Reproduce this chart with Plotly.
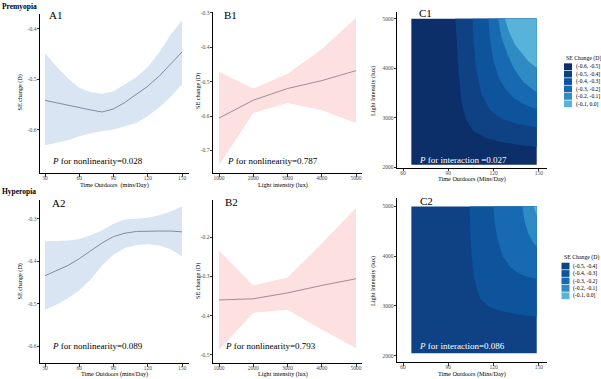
import plotly.graph_objects as go

W, H = 601, 379
SERIF = "Liberation Serif"

# ---------------- data ----------------
a_time = [30, 40, 50, 60, 70, 80, 90, 100, 110, 120, 130, 140, 150]
a1_fit = [-0.542, -0.547, -0.552, -0.556, -0.561, -0.565, -0.559, -0.546, -0.530, -0.514, -0.494, -0.471, -0.446]
a1_upper = [-0.448, -0.475, -0.498, -0.517, -0.526, -0.529, -0.524, -0.510, -0.496, -0.476, -0.447, -0.412, -0.383]
a1_lower = [-0.631, -0.626, -0.621, -0.613, -0.607, -0.603, -0.600, -0.594, -0.587, -0.573, -0.556, -0.535, -0.510]
a2_fit = [-0.434, -0.422, -0.410, -0.394, -0.375, -0.357, -0.342, -0.334, -0.330, -0.329, -0.329, -0.329, -0.331]
a2_upper = [-0.353, -0.352, -0.351, -0.348, -0.339, -0.327, -0.312, -0.302, -0.300, -0.298, -0.292, -0.283, -0.271]
a2_lower = [-0.514, -0.502, -0.487, -0.468, -0.443, -0.410, -0.384, -0.369, -0.362, -0.360, -0.363, -0.372, -0.388]

b_light = [1000, 2000, 3000, 4000, 5000]
b1_fit = [-0.606, -0.554, -0.520, -0.497, -0.468]
b1_upper = [-0.471, -0.520, -0.477, -0.406, -0.314]
b1_lower = [-0.743, -0.591, -0.562, -0.583, -0.620]
b2_fit = [-0.360, -0.357, -0.342, -0.323, -0.306]
b2_upper = [-0.234, -0.323, -0.303, -0.216, -0.125]
b2_lower = [-0.487, -0.393, -0.385, -0.435, -0.483]

# contour surface extent (time outdoors x light intensity)
c_time_extent = [65.5, 148.5]
c_light_extent = [2050, 5000]
c_band_labels = ["(-0.6, -0.5]", "(-0.5, -0.4]", "(-0.4, -0.3]", "(-0.3, -0.2]", "(-0.2, -0.1]", "(-0.1, 0.0]"]
c_band_colors = ["#0C2E69", "#0E4284", "#0D549D", "#1769B2", "#2F8BC3", "#57B4D8"]

# C1 isolines (levels -0.5 ... -0.1)
c1_iso_m05_x = [94.6, 95.4, 96.8, 98.8, 101.8, 106.5, 114.0, 124.0, 136.0, 148.5]
c1_iso_m05_y = [5000, 4500, 3900, 3300, 2960, 2730, 2600, 2515, 2455, 2410]
c1_iso_m04_x = [106.0, 106.8, 108.3, 112.0, 117.5, 125.5, 136.5, 148.5]
c1_iso_m04_y = [5000, 4500, 4000, 3470, 3160, 2975, 2870, 2810]
c1_iso_m03_x = [116.5, 117.5, 119.8, 123.5, 127.8, 133.5, 140.5, 148.5]
c1_iso_m03_y = [5000, 4600, 4150, 3800, 3580, 3390, 3265, 3175]
c1_iso_m02_x = [123.0, 125.0, 129.0, 133.5, 139.5, 148.5]
c1_iso_m02_y = [5000, 4650, 4290, 3990, 3730, 3510]
c1_iso_m01_x = [127.5, 130.0, 134.2, 139.0, 143.0, 148.5]
c1_iso_m01_y = [5000, 4750, 4470, 4280, 4140, 4010]

# C2 isolines (levels -0.4 ... -0.1)
c2_iso_m04_x = [104.0, 104.5, 105.5, 107.0, 111.0, 117.0, 125.0, 136.0, 148.5]
c2_iso_m04_y = [5000, 4500, 4000, 3550, 3150, 2980, 2900, 2830, 2785]
c2_iso_m03_x = [119.8, 120.5, 122.5, 126.0, 131.0, 137.0, 143.0, 148.5]
c2_iso_m03_y = [5000, 4700, 4350, 4000, 3780, 3650, 3580, 3540]
c2_iso_m02_x = [139.0, 140.5, 143.0, 146.0, 148.5]
c2_iso_m02_y = [5000, 4700, 4450, 4280, 4190]
c2_iso_m01_x = [146.5, 147.5, 148.5]
c2_iso_m01_y = [5000, 4900, 4820]

a_xticks = [30, 60, 90, 120, 150]
b_xticks = [1000, 2000, 3000, 4000, 5000]
c_xticks = [60, 90, 120, 150]
c_yticks = [2000, 3000, 4000, 5000]
a1_yticks = [-0.6, -0.5, -0.4]
a1_yticklabels = ["-0.6", "-0.5", "-0.4"]
a2_yticks = [-0.6, -0.5, -0.4, -0.3]
a2_yticklabels = ["-0.6", "-0.5", "-0.4", "-0.3"]
b1_yticks = [-0.7, -0.6, -0.5, -0.4, -0.3]
b1_yticklabels = ["-0.7", "-0.6", "-0.5", "-0.4", "-0.3"]
b2_yticks = [-0.5, -0.4, -0.3, -0.2]
b2_yticklabels = ["-0.5", "-0.4", "-0.3", "-0.2"]

# ---------------- helpers ----------------
def px(x):
    return x / W


def py(y):
    return 1 - y / H


fig = go.Figure()

A_FILL, A_LINE = "#DAE5F3", "#7F8CA3"
B_FILL, B_LINE = "#FDE0E0", "#A08C94"


def ribbon(xs, fit, up, lo, xa, ya, fillc, linec):
    fig.add_trace(go.Scatter(x=list(xs) + list(xs)[::-1], y=list(up) + list(lo)[::-1],
                             fill="toself", fillcolor=fillc, line=dict(width=0),
                             mode="lines", xaxis=xa, yaxis=ya, hoverinfo="skip"))
    fig.add_trace(go.Scatter(x=xs, y=fit, mode="lines", line=dict(color=linec, width=1),
                             xaxis=xa, yaxis=ya, hoverinfo="skip"))


ribbon(a_time, a1_fit, a1_upper, a1_lower, "x", "y", A_FILL, A_LINE)
ribbon(b_light, b1_fit, b1_upper, b1_lower, "x2", "y2", B_FILL, B_LINE)
ribbon(a_time, a2_fit, a2_upper, a2_lower, "x4", "y4", A_FILL, A_LINE)
ribbon(b_light, b2_fit, b2_upper, b2_lower, "x5", "y5", B_FILL, B_LINE)


def contour_panel(isolines, base_idx, xa, ya):
    x0, x1 = c_time_extent
    y0, y1 = c_light_extent
    fig.add_trace(go.Scatter(x=[x0, x1, x1, x0, x0], y=[y0, y0, y1, y1, y0], fill="toself",
                             fillcolor=c_band_colors[base_idx], line=dict(width=0),
                             mode="lines", xaxis=xa, yaxis=ya, hoverinfo="skip"))
    for k, (ix, iy) in enumerate(isolines):
        fig.add_trace(go.Scatter(x=list(ix) + [x1], y=list(iy) + [y1], fill="toself",
                                 fillcolor=c_band_colors[base_idx + 1 + k], line=dict(width=0),
                                 mode="lines", xaxis=xa, yaxis=ya, hoverinfo="skip"))


contour_panel([(c1_iso_m05_x, c1_iso_m05_y), (c1_iso_m04_x, c1_iso_m04_y),
               (c1_iso_m03_x, c1_iso_m03_y), (c1_iso_m02_x, c1_iso_m02_y),
               (c1_iso_m01_x, c1_iso_m01_y)], 0, "x3", "y3")
contour_panel([(c2_iso_m04_x, c2_iso_m04_y), (c2_iso_m03_x, c2_iso_m03_y),
               (c2_iso_m02_x, c2_iso_m02_y), (c2_iso_m01_x, c2_iso_m01_y)], 1, "x6", "y6")

# ---------------- axes ----------------
TICKFONT = dict(family=SERIF, size=5.5, color="#4D4D4D")


def axis(dom_px, rng, tickvals, ticktext=None, anchor=None, vertical=False):
    d = dict(showline=True, linecolor="black", linewidth=1, ticks="outside", ticklen=2.5,
             tickwidth=0.8, tickcolor="#333333", showgrid=False, zeroline=False,
             tickfont=TICKFONT, range=rng, tickvals=tickvals, anchor=anchor, fixedrange=True)
    if ticktext is not None:
        d["ticktext"] = ticktext
    if vertical:
        d["domain"] = [py(dom_px[1]), py(dom_px[0])]
        d["ticklabelstandoff"] = -1
    else:
        d["domain"] = [px(dom_px[0]), px(dom_px[1])]
        d["ticklabelstandoff"] = -3
    return d


lay = {}
# A1
lay["xaxis"] = axis([40, 189], [25.6, 156.1], a_xticks, anchor="y")
lay["yaxis"] = axis([12, 173], [-0.6863, -0.3706], a1_yticks, a1_yticklabels, anchor="x", vertical=True)
# B1
lay["xaxis2"] = axis([213, 362], [824.8, 5175], b_xticks, anchor="y2")
lay["yaxis2"] = axis([10, 173], [-0.7662, -0.2971], b1_yticks, b1_yticklabels, anchor="x2", vertical=True)
# C1
lay["xaxis3"] = axis([397, 547], [56.0, 155.3], c_xticks, anchor="y3")
lay["yaxis3"] = axis([10, 167.5], [1990, 5140], c_yticks, anchor="x3", vertical=True)
# A2
lay["xaxis4"] = axis([40, 189], [25.6, 156.1], a_xticks, anchor="y4")
lay["yaxis4"] = axis([200, 365], [-0.6395, -0.2558], a2_yticks, a2_yticklabels, anchor="x4", vertical=True)
# B2
lay["xaxis5"] = axis([213, 362], [824.8, 5175], b_xticks, anchor="y5")
lay["yaxis5"] = axis([200, 365], [-0.521, -0.105], b2_yticks, b2_yticklabels, anchor="x5", vertical=True)
# C2
lay["xaxis6"] = axis([397, 547], [56.0, 155.3], c_xticks, anchor="y6")
lay["yaxis6"] = axis([198, 364], [1870, 5173], c_yticks, anchor="x6", vertical=True)

fig.update_layout(**lay)

# ---------------- annotations ----------------
ann = []


def text(x, y, s, size, color="black", xanchor="left", angle=0, yanchor="middle"):
    ann.append(dict(x=px(x), y=py(y), xref="paper", yref="paper", text=s, showarrow=False,
                    xanchor=xanchor, yanchor=yanchor, textangle=angle,
                    font=dict(family=SERIF, size=size, color=color)))


text(0, 5, "<b>Premyopia</b>", 7.5)
text(0, 192, "<b>Hyperopia</b>", 7.5)

text(46.5, 13, "A1", 11)
text(222, 13, "B1", 11)
text(417, 11, "C1", 11)
text(50, 203, "A2", 11)
text(223, 202, "B2", 11)
text(418, 201, "C2", 11)

text(50, 161, "<i>P</i> for nonlinearity=0.028", 9)
text(225, 161, "<i>P</i> for nonlinearity=0.787", 9)
text(417, 159.5, "<i>P</i> for interaction =0.027", 9, color="white")
text(50, 348, "<i>P</i> for nonlinearity=0.089", 9)
text(223, 348, "<i>P</i> for nonlinearity=0.793", 9)
text(417, 347.5, "<i>P</i> for interaction=0.086", 9, color="white")

AX_T = 6.2
text(20.5, 92, "SE change (D)", AX_T, xanchor="center", angle=-90)
text(198, 90, "SE change (D)", AX_T, xanchor="center", angle=-90)
text(373, 90, "Light Intensity (lux)", AX_T, xanchor="center", angle=-90)
text(20.5, 283, "SE change (D)", AX_T, xanchor="center", angle=-90)
text(198, 282, "SE change (D)", AX_T, xanchor="center", angle=-90)
text(373, 282, "Light Intensity (lux)", AX_T, xanchor="center", angle=-90)

text(114, 184.5, "Time Outdoors  (mins/Day)", AX_T, xanchor="center")
text(283, 185, "Light intensity (lux)", AX_T, xanchor="center")
text(472, 178.5, "Time Outdoors (Mins/Day)", AX_T, xanchor="center")
text(114, 375.5, "Time Outdoors (mins/Day)", AX_T, xanchor="center")
text(283, 375.5, "Light intensity (lux)", AX_T, xanchor="center")
text(472, 375.5, "Time Outdoors (Mins/Day)", AX_T, xanchor="center")

# legends (drawn manually, tiny ggplot-style keys)
shapes = []


def legend(x0, ytitle, band_idx):
    text(x0, ytitle, "SE Change (D)", 5.8)
    for i, b in enumerate(band_idx):
        top = ytitle + 5 + i * 7.5
        shapes.append(dict(type="rect", xref="paper", yref="paper", x0=px(x0), x1=px(x0 + 8),
                           y0=py(top + 6.8), y1=py(top), fillcolor=c_band_colors[b],
                           line=dict(width=0)))
        text(x0 + 9.5, top + 3.6, c_band_labels[b], 5.6)


legend(564, 57, [0, 1, 2, 3, 4, 5])
legend(561.5, 258.5, [1, 2, 3, 4, 5])

fig.update_layout(width=W, height=H, margin=dict(l=0, r=0, t=0, b=0),
                  plot_bgcolor="white", paper_bgcolor="white", showlegend=False,
                  annotations=ann, shapes=shapes)

fig.write_html("out.html", config={"displayModeBar": False},
               post_script="document.body.style.margin='0px';document.body.style.padding='0px';")
